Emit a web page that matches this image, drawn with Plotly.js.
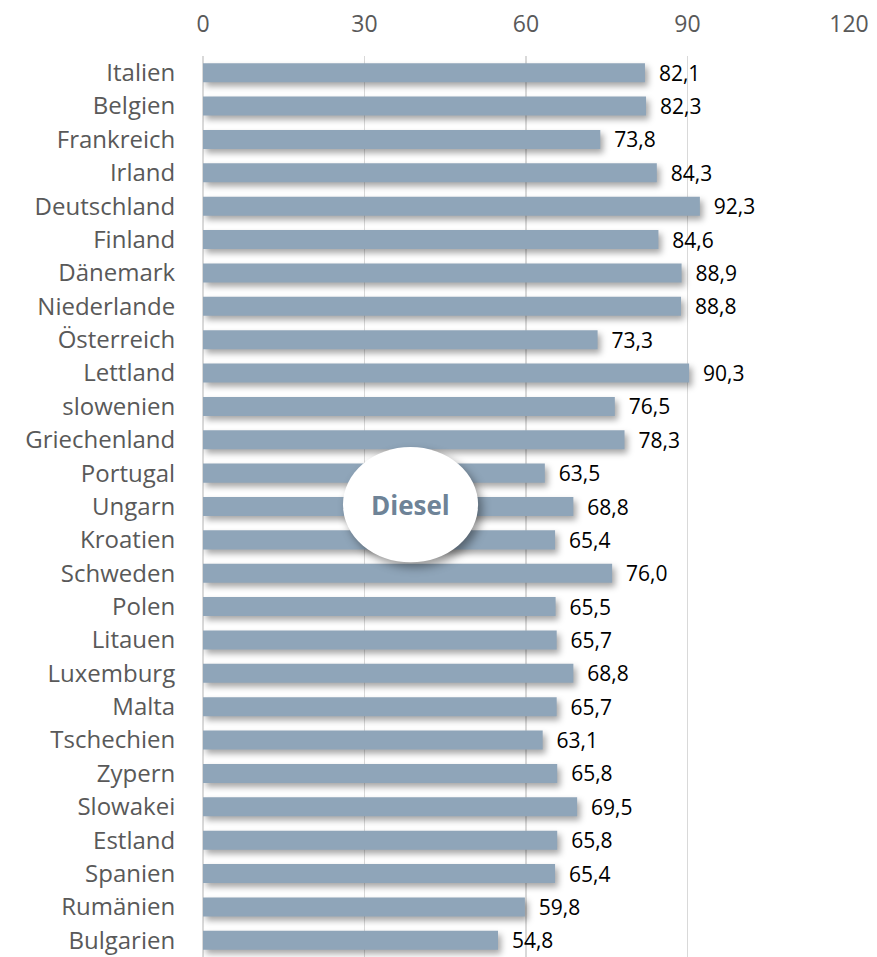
<!DOCTYPE html>
<html>
<head>
<meta charset="utf-8">
<script src="https://cdn.plot.ly/plotly-3.0.1.min.js"></script>
<style>
html,body{margin:0;padding:0;background:#fff;}
#chart{width:877px;height:957px;}
.shadowed{filter:drop-shadow(3px 4px 3px rgba(0,0,0,0.35));}
</style>
</head>
<body>
<div id="chart"></div>
<script>
const countries = ["Italien","Belgien","Frankreich","Irland","Deutschland","Finland","Dänemark","Niederlande","Österreich","Lettland","slowenien","Griechenland","Portugal","Ungarn","Kroatien","Schweden","Polen","Litauen","Luxemburg","Malta","Tschechien","Zypern","Slowakei","Estland","Spanien","Rumänien","Bulgarien"];
const dieselValues = [82.1,82.3,73.8,84.3,92.3,84.6,88.9,88.8,73.3,90.3,76.5,78.3,63.5,68.8,65.4,76.0,65.5,65.7,68.8,65.7,63.1,65.8,69.5,65.8,65.4,59.8,54.8];
const xTicks = [0,30,60,90,120];
const badgeLabel = "Diesel";

const trace = {
  type: 'bar',
  orientation: 'h',
  x: dieselValues,
  y: countries,
  marker: {color: '#8fa5b9'},
  texttemplate: '\u00a0\u00a0%{x:.1f}',
  textposition: 'outside',
  constraintext: 'none',
  cliponaxis: false,
  textfont: {family: 'Open Sans, sans-serif', size: 21, color: '#000'},
  hoverinfo: 'none'
};

const layout = {
  width: 877, height: 957,
  margin: {l: 203, r: 28, t: 56, b: 0},
  paper_bgcolor: '#fff', plot_bgcolor: '#fff',
  separators: ',.',
  bargap: 0.43,
  showlegend: false,
  font: {family: 'Open Sans, sans-serif'},
  xaxis: {
    side: 'top',
    range: [0, 120],
    tickvals: xTicks,
    ticktext: xTicks.map(String),
    tickfont: {size: 23, color: '#595959'},
    ticks: 'outside', ticklen: 14, tickcolor: 'rgba(0,0,0,0)',
    showgrid: true, gridcolor: '#d9d9d9', gridwidth: 1.5,
    zeroline: true, zerolinecolor: '#d9d9d9', zerolinewidth: 1.5,
    showline: false, fixedrange: true
  },
  yaxis: {
    autorange: 'reversed',
    tickfont: {size: 24, color: '#595959'},
    ticks: 'outside', ticklen: 22, tickcolor: 'rgba(0,0,0,0)',
    showgrid: false, zeroline: false, showline: false, fixedrange: true
  },
  shapes: [{
    type: 'circle', xref: 'x', yref: 'paper',
    x0: 26.0, x1: 51.1, y0: 0.438, y1: 0.566,
    fillcolor: '#ffffff', line: {width: 0}, layer: 'above'
  }],
  annotations: [{
    xref: 'x', yref: 'paper', x: 38.55, y: 0.502,
    text: '<b>' + badgeLabel + '</b>', showarrow: false,
    font: {family: 'Open Sans, sans-serif', size: 26, color: '#6e8397'}
  }]
};

Plotly.newPlot('chart', [trace], layout, {displayModeBar: false, staticPlot: true}).then(function(){
  document.querySelectorAll('.trace.bars .point path').forEach(function(p){ p.classList.add('shadowed'); });
  document.querySelectorAll('.shapelayer path').forEach(function(p){
    p.style.filter = 'drop-shadow(4px 5px 5px rgba(0,0,0,0.4))';
  });
});
</script>
</body>
</html>
